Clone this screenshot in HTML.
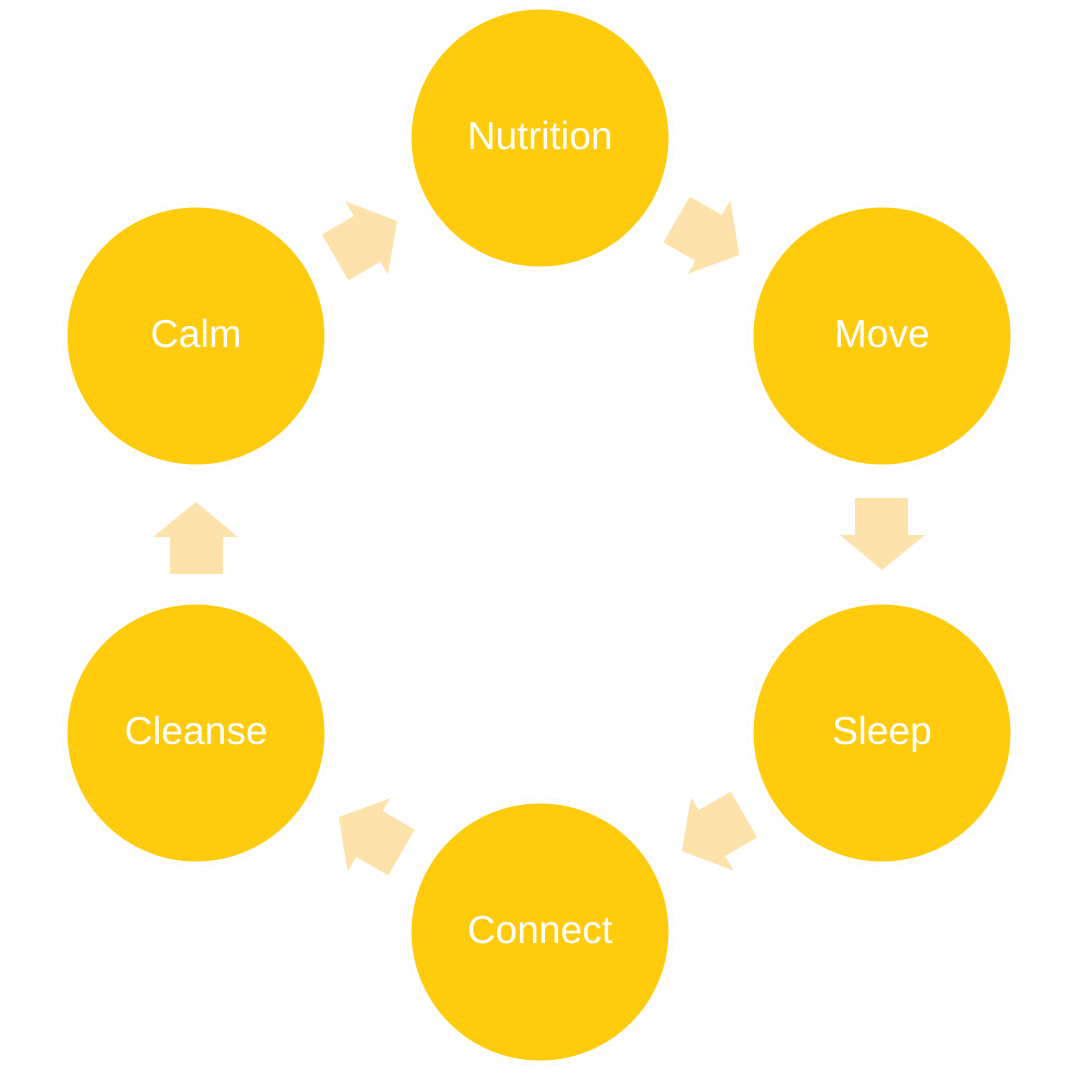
<!DOCTYPE html>
<html><head><style>
html,body{margin:0;padding:0;background:#fff;}
svg{display:block;position:absolute;left:0;top:0;}
.t{position:absolute;width:300px;margin-left:-150px;text-align:center;font-family:"Liberation Sans","DejaVu Sans",sans-serif;font-size:39px;color:#fff;line-height:40px;margin-top:-19px;text-rendering:geometricPrecision;font-kerning:normal;}
</style></head><body>
<svg width="1080" height="1079" viewBox="0 0 1080 1079" xmlns="http://www.w3.org/2000/svg">
<defs>
<filter id="sh" x="-20%" y="-20%" width="140%" height="140%">
<feGaussianBlur in="SourceAlpha" stdDeviation="3"/>
<feOffset dx="0" dy="2"/>
<feComponentTransfer><feFuncA type="linear" slope="0.35"/></feComponentTransfer>
<feFlood flood-color="#e8b400"/><feComposite operator="in" in2="SourceAlpha"/>
<feMerge><feMergeNode/><feMergeNode in="SourceGraphic"/></feMerge>
</filter>
<g id="arr"><polygon points="-27,-36 26,-36 26,1 43,1 0,36 -42,1 -27,1" fill="#FDE2AC"/></g>
<g id="c"><circle r="131" fill="#FFCB0A" stroke="#fff" stroke-width="5" filter="url(#sh)"/></g>
</defs>
<use href="#c" x="540" y="138"/>
<use href="#c" x="196" y="336"/>
<use href="#c" x="882" y="336"/>
<use href="#c" x="882" y="733"/>
<use href="#c" x="540" y="932"/>
<use href="#c" x="196" y="733"/>
<use href="#arr" transform="translate(882,534)"/>
<use href="#arr" transform="translate(196,538) rotate(180)"/>
<use href="#arr" transform="translate(708,237) rotate(-60)"/>
<use href="#arr" transform="translate(366,239) rotate(-120)"/>
<use href="#arr" transform="translate(713,833) rotate(60)"/>
<use href="#arr" transform="translate(370,835) rotate(120)"/>
</svg>
<div class="t" style="left:540px;top:136px">Nutrition</div>
<div class="t" style="left:196px;top:334px">Calm</div>
<div class="t" style="left:882px;top:334px">Move</div>
<div class="t" style="left:882px;top:731px">Sleep</div>
<div class="t" style="left:540px;top:930px">Connect</div>
<div class="t" style="left:196px;top:731px">Cleanse</div>
</body></html>
